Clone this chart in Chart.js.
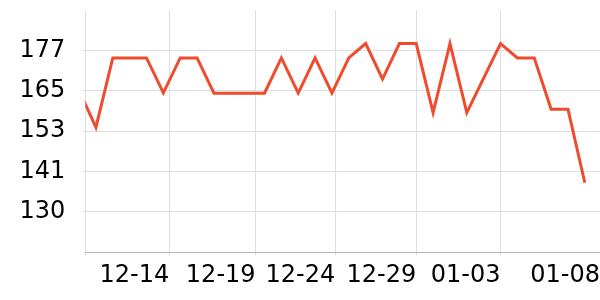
<!DOCTYPE html>
<html>
<head>
<meta charset="utf-8">
<script src="https://cdn.jsdelivr.net/npm/chart.js@4"></script>
<style>
  html, body { margin: 0; padding: 0; background: #fff; }
  #wrap { width: 600px; height: 300px; }
</style>
</head>
<body>
<div id="wrap"><canvas id="lineChart"></canvas></div>
<script>
// day index of each reading (0 = first point, partly outside the axis)
var days = [0, 1, 2, 3, 4, 5, 6, 7, 8, 9, 10, 11, 12, 13, 14, 15, 16, 17, 18, 19, 20,
            21, 22, 23, 24, 25, 26, 27, 28, 29, 30];
var values = [165.5, 154.7, 175, 175, 175, 164.8, 175, 175, 164.7, 164.7, 164.7, 164.7,
              175, 164.7, 175, 164.7, 175, 179.2, 168.8, 179.2, 179.2, 159, 179.2, 159,
              169.1, 179.2, 175, 175, 160, 160, 138.5];

// x axis: range and date ticks (in day units)
var xMin = 0.37;
var xMax = 30.9;
var xTickValues = [0.37, 5.35, 10.47, 15.2, 20.0, 25.0, 30.9];
var xTickLabels = ['', '12-14', '12-19', '12-24', '12-29', '01-03', '01-08'];

// y axis
var yMin = 118.2;
var yMax = 189;
var yTickValues = [130, 141.8, 153.6, 165.4, 177.2];
var yTickLabels = ['130', '141', '153', '165', '177'];

var points = days.map(function (d, i) { return { x: d, y: values[i] }; });

// keep the label overhang from shrinking the plot area
function noEdgePadding(scale) {
    scale.paddingTop = 0;
    scale.paddingBottom = 0;
    scale.paddingLeft = 0;
    scale.paddingRight = 0;
}

var ctx = document.getElementById('lineChart');
var lineChart = new Chart(ctx, {
    type: 'line',
    data: {
        datasets: [{
            data: points,
            borderColor: '#ef4b2c',
            borderWidth: 3,
            pointRadius: 0,
            tension: 0,
            fill: false,
            clip: 0
        }]
    },
    options: {
        responsive: true,
        maintainAspectRatio: false,
        animation: false,
        layout: {
            padding: { left: 2.5, top: 10, right: 0, bottom: 3 }
        },
        plugins: {
            legend: { display: false },
            tooltip: { enabled: false }
        },
        scales: {
            x: {
                type: 'linear',
                min: xMin,
                max: xMax,
                bounds: 'data',
                afterBuildTicks: function (scale) {
                    scale.ticks = xTickValues.map(function (v) { return { value: v }; });
                },
                afterFit: noEdgePadding,
                grid: {
                    color: function (c) {
                        return c.index === xTickValues.length - 1 ? 'rgba(0,0,0,0)' : '#dedede';
                    },
                    tickLength: 3
                },
                border: { color: '#b8b8b8' },
                ticks: {
                    autoSkip: false,
                    maxRotation: 0,
                    align: 'end',
                    padding: 6.5,
                    color: '#000',
                    font: { family: 'DejaVu Sans', size: 24 },
                    callback: function (v, i) { return xTickLabels[i]; }
                }
            },
            y: {
                min: yMin,
                max: yMax,
                bounds: 'data',
                afterBuildTicks: function (scale) {
                    scale.ticks = yTickValues.map(function (v) { return { value: v }; });
                },
                afterFit: noEdgePadding,
                grid: { color: '#dedede', tickLength: 3 },
                border: { display: false },
                ticks: {
                    padding: 17,
                    color: '#000',
                    font: { family: 'DejaVu Sans', size: 24 },
                    callback: function (v, i) { return yTickLabels[i]; }
                }
            }
        }
    }
});
</script>
</body>
</html>
